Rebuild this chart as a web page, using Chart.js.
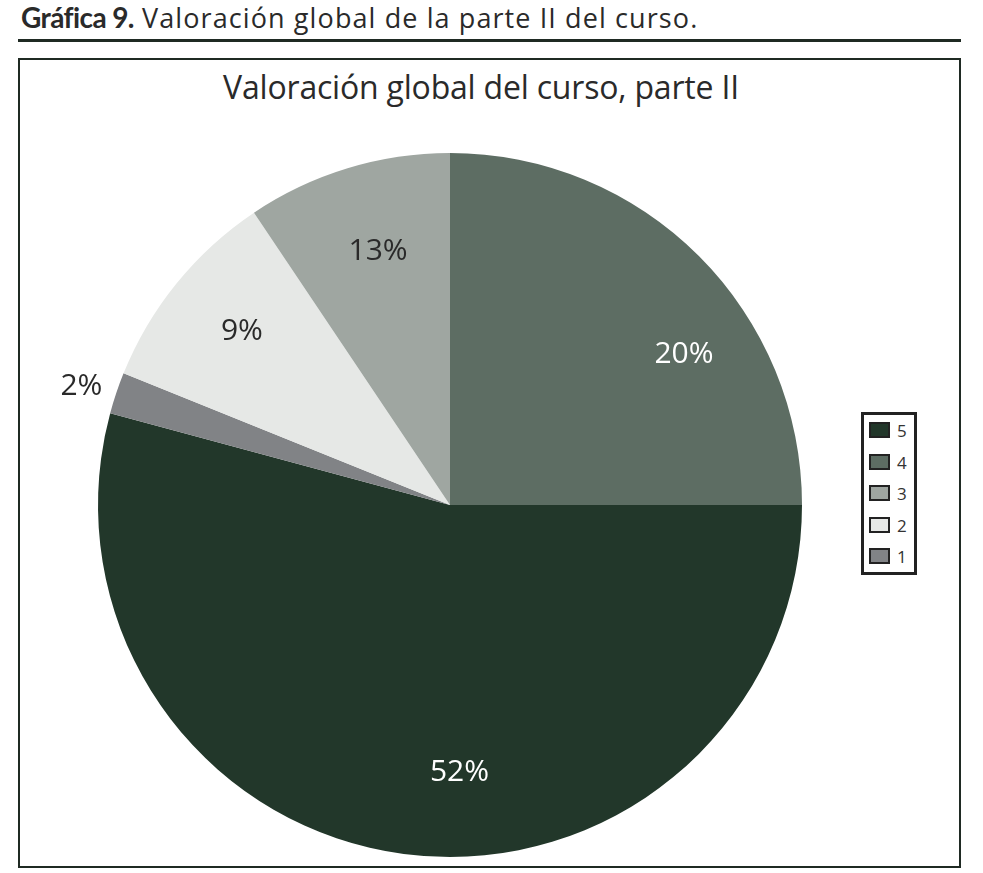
<!doctype html>
<html>
<head>
<meta charset="utf-8">
<script src="https://cdn.jsdelivr.net/npm/chart.js@4"></script>
<style>
  body{margin:0;background:#fff;width:983px;height:873px;position:relative;overflow:hidden;font-family:"Open Sans",Lato,sans-serif;color:#222}
  .head{position:absolute;left:21px;top:-1px;font-size:27px;letter-spacing:1.1px;color:#2a2a2a;white-space:nowrap}
  .head b{font-family:Lato,sans-serif;font-weight:700;font-size:28px;letter-spacing:-0.6px}
  .rule{position:absolute;left:18px;width:943px;top:39px;height:3px;background:#1f2a23}
  .frame{position:absolute;left:18px;top:58px;width:939px;height:806px;border:2px solid #1f2a23}
  .title{position:absolute;left:0;width:962px;top:65px;text-align:center;font-size:32px;letter-spacing:-0.2px;color:#2a2a2a}
  #wrap{position:absolute;left:20px;top:60px;width:939px;height:806px}
  .legend{position:absolute;left:861px;top:412px;width:50px;height:157px;border:3px solid #222;background:#fff}
  .legend div{position:absolute;left:5px;height:17px;font-size:17px;line-height:17px;color:#333}
  .legend span{display:inline-block;width:17px;height:12px;border:2px solid #222;margin-right:7px;vertical-align:top}
</style>
</head>
<body>
<div class="head"><b>Gráfica 9.</b> Valoración global de la parte II del curso.</div>
<div class="rule"></div>
<div class="frame"></div>
<div class="title">Valoración global del curso, parte II</div>
<div id="wrap"><canvas id="c" width="939" height="806"></canvas></div>
<div class="legend" id="legend"></div>
<script>
// slices in drawing order, clockwise from 3 o'clock
const categories = ['5', '1', '2', '3', '4'];
// share of the circle each slice covers in the picture
const sliceShare = [54.2, 1.9, 9.5, 9.4, 25.0];
// percentage labels printed on the slices
const printedLabels = ['52%', '2%', '9%', '13%', '20%'];
const colors = ['#22372a', '#818386', '#e6e8e6', '#9fa6a1', '#5d6d63'];
const labelColors = ['#ffffff', '#2a2a2a', '#2a2a2a', '#2a2a2a', '#ffffff'];
const legendOrder = ['5', '4', '3', '2', '1'];

const sliceLabels = {
  id: 'sliceLabels',
  afterDatasetsDraw(chart, args, opts) {
    const ctx = chart.ctx;
    const arcs = chart.getDatasetMeta(0).data;
    ctx.save();
    ctx.font = '30px "Open Sans", Lato, sans-serif';
    ctx.textAlign = 'center';
    ctx.textBaseline = 'middle';
    arcs.forEach((arc, i) => {
      const p = arc.getProps(['x', 'y', 'startAngle', 'endAngle', 'outerRadius'], true);
      const a = (p.startAngle + p.endAngle) / 2 + (opts.nudge[i] || 0) * Math.PI / 180;
      const r = p.outerRadius * opts.radius[i];
      ctx.fillStyle = labelColors[i];
      ctx.fillText(printedLabels[i], p.x + Math.cos(a) * r, p.y + Math.sin(a) * r);
    });
    ctx.restore();
  }
};

new Chart(document.getElementById('c'), {
  type: 'pie',
  data: {
    labels: categories,
    datasets: [{ data: sliceShare, backgroundColor: colors, borderWidth: 0 }]
  },
  options: {
    responsive: false,
    animation: false,
    rotation: 90,
    layout: { padding: { left: 78, right: 157, top: 93, bottom: 9 } },
    plugins: {
      legend: { display: false },
      tooltip: { enabled: false },
      sliceLabels: { radius: [0.76, 1.1, 0.77, 0.75, 0.79], nudge: [-9.6, -0.7, 0.8, 1.1, 12.3] }
    }
  },
  plugins: [sliceLabels]
});

const legend = document.getElementById('legend');
legendOrder.forEach((k, j) => {
  const i = categories.indexOf(k);
  const row = document.createElement('div');
  row.style.top = (7 + j * 31.5) + 'px';
  row.innerHTML = '<span style="background:' + colors[i] + '"></span>' + k;
  legend.appendChild(row);
});
</script>
</body>
</html>
